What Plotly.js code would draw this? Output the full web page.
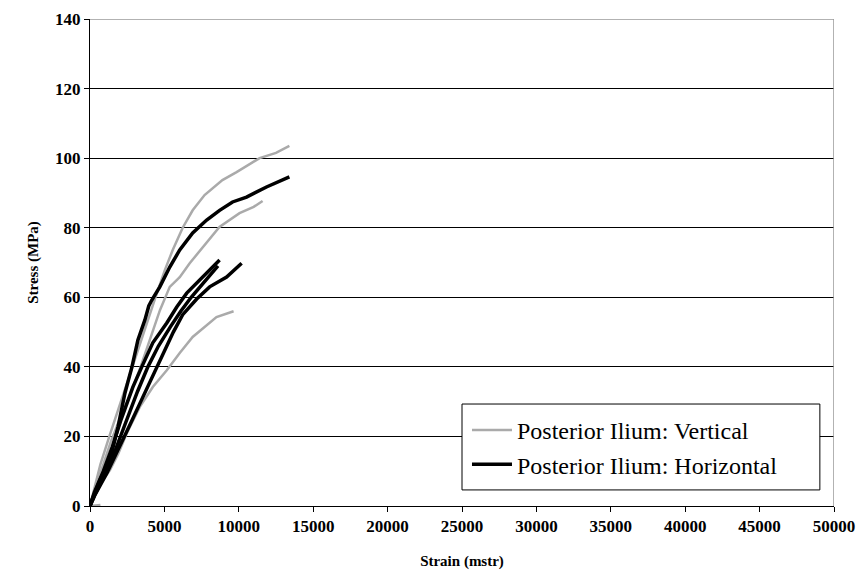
<!DOCTYPE html>
<html>
<head>
<meta charset="utf-8">
<script src="https://cdn.plot.ly/plotly-3.0.1.min.js"></script>
<style>html,body{margin:0;padding:0;background:#fff;}#chart{width:861px;height:570px;}</style>
</head>
<body>
<div id="chart"></div>
<script>
// Vertical specimens (gray)
const v1Strain = [0, 300, 700, 1300, 2000, 2700, 3350, 3900, 4400, 5030, 5560, 6230, 6900, 7700, 8900, 9850, 11400, 12500, 13400];
const v1Stress = [0, 5, 12, 20, 29, 38, 47, 54, 60, 67.8, 73.6, 80, 85, 89.4, 93.7, 96, 100, 101.5, 103.5];
const v2Strain = [0, 400, 900, 1400, 2000, 2700, 3400, 4020, 4700, 5360, 6030, 6700, 7570, 8700, 10050, 11000, 11600];
const v2Stress = [0, 6, 12, 18.5, 25, 32, 40, 47.7, 56.3, 63, 65.8, 69.8, 74.4, 80.2, 84.2, 86, 87.7];
const v3Strain = [0, 335, 800, 1340, 1900, 2480, 3350, 4220, 5160, 6030, 6900, 7700, 8500, 9650];
const v3Stress = [0, 3.2, 7, 10.3, 15, 21, 28.5, 34.2, 39, 44, 48.6, 51.5, 54.3, 56];
const v4Strain = [0, 700];
const v4Stress = [0, 0.3];
// Horizontal specimens (black)
const h1Strain = [0, 130, 670, 1340, 1880, 2350, 2820, 3220, 3690, 3950, 4155, 4690, 5360, 6030, 6900, 7840, 8710, 9580, 10520, 11860, 13400];
const h1Stress = [0, 1.7, 7.5, 13.2, 22.7, 32.5, 40, 47.7, 53.5, 57.5, 59.2, 63, 68.7, 73.6, 78.5, 82.2, 85, 87.4, 88.8, 91.7, 94.6];
const h2Strain = [0, 300, 900, 1500, 2100, 2880, 3480, 4220, 5160, 5830, 6500, 7370, 8040, 8710];
const h2Stress = [0, 4, 10, 17, 25, 34.2, 40, 46.9, 52.6, 57.2, 61.2, 65, 67.8, 70.7];
const h3Strain = [0, 350, 1000, 1700, 2400, 3200, 3890, 4600, 5400, 6100, 6800, 7600, 8300, 8600];
const h3Stress = [0, 3.5, 9, 16, 24, 33, 40, 46, 51.5, 56, 60, 64, 67.5, 69];
const h4Strain = [0, 335, 1140, 2010, 2700, 3300, 3900, 4500, 5100, 5600, 6230, 7170, 8040, 9180, 10190];
const h4Stress = [0, 3.2, 9.5, 17, 23.5, 29, 34.5, 40, 45.5, 50, 55, 59.5, 63, 65.8, 69.8];

const xTicks = [0, 5000, 10000, 15000, 20000, 25000, 30000, 35000, 40000, 45000, 50000];
const yTicks = [0, 20, 40, 60, 80, 100, 120, 140];

const gray = '#aaaaaa', black = '#000000';
function tr(x, y, color, w, name, show) {
  return {x: x, y: y, type: 'scatter', mode: 'lines', name: name, showlegend: show,
          line: {color: color, width: w}, hoverinfo: 'skip'};
}
const data = [
  tr(v1Strain, v1Stress, gray, 2.5, 'Posterior Ilium: Vertical', true),
  tr(v2Strain, v2Stress, gray, 2.5, 'Posterior Ilium: Vertical', false),
  tr(v3Strain, v3Stress, gray, 2.5, 'Posterior Ilium: Vertical', false),
  tr(v4Strain, v4Stress, gray, 2.5, 'Posterior Ilium: Vertical', false),
  tr(h1Strain, h1Stress, black, 3.5, 'Posterior Ilium: Horizontal', true),
  tr(h2Strain, h2Stress, black, 3.5, 'Posterior Ilium: Horizontal', false),
  tr(h3Strain, h3Stress, black, 3.5, 'Posterior Ilium: Horizontal', false),
  tr(h4Strain, h4Stress, black, 3.5, 'Posterior Ilium: Horizontal', false)
];
const serif = 'Liberation Serif, Times New Roman, serif';
const layout = {
  width: 861, height: 570,
  margin: {l: 90, r: 27, t: 19, b: 64},
  paper_bgcolor: '#fff', plot_bgcolor: '#fff',
  font: {family: serif, color: '#000'},
  showlegend: true,
  xaxis: {
    range: [0, 50000], tickvals: xTicks, ticktext: xTicks.map(String),
    showgrid: false, zeroline: false, showline: true, linecolor: '#000', linewidth: 1,
    ticks: 'outside', ticklen: 5, tickcolor: '#000',
    tickfont: {family: serif, size: 17, color: '#000', weight: 'bold'},
    title: {text: '<b>Strain (mstr)</b>', font: {family: serif, size: 15, color: '#000'}, standoff: 20}
  },
  yaxis: {
    range: [0, 140], tickvals: yTicks, ticktext: yTicks.map(String),
    showgrid: true, gridcolor: '#000', gridwidth: 1, zeroline: false,
    showline: true, linecolor: '#000', linewidth: 1,
    ticks: 'outside', ticklen: 5, tickcolor: '#000',
    tickfont: {family: serif, size: 17, color: '#000', weight: 'bold'},
    title: {text: '<b>Stress (MPa)</b>', font: {family: serif, size: 15, color: '#000'}, standoff: 12}
  },
  shapes: [
    {type: 'line', xref: 'x', yref: 'y', x0: 0, x1: 50000, y0: 140, y1: 140, line: {color: '#999', width: 1.5}, layer: 'above'},
    {type: 'line', xref: 'x', yref: 'y', x0: 50000, x1: 50000, y0: 0, y1: 140, line: {color: '#999', width: 1.5}, layer: 'above'},
    {type: 'rect', xref: 'paper', yref: 'paper', x0: 0.5, x1: 0.981, y0: 0.033, y1: 0.2094,
     line: {color: '#000', width: 1}, fillcolor: '#fff', layer: 'above'}
  ],
  legend: {
    x: 0.5067, y: 0.2015, xanchor: 'left', yanchor: 'top',
    bgcolor: 'rgba(0,0,0,0)', borderwidth: 0,
    font: {family: serif, size: 24, color: '#000'},
    itemwidth: 40, tracegroupgap: 0
  }
};
Plotly.newPlot('chart', data, layout, {staticPlot: true, displayModeBar: false});
</script>
</body>
</html>
